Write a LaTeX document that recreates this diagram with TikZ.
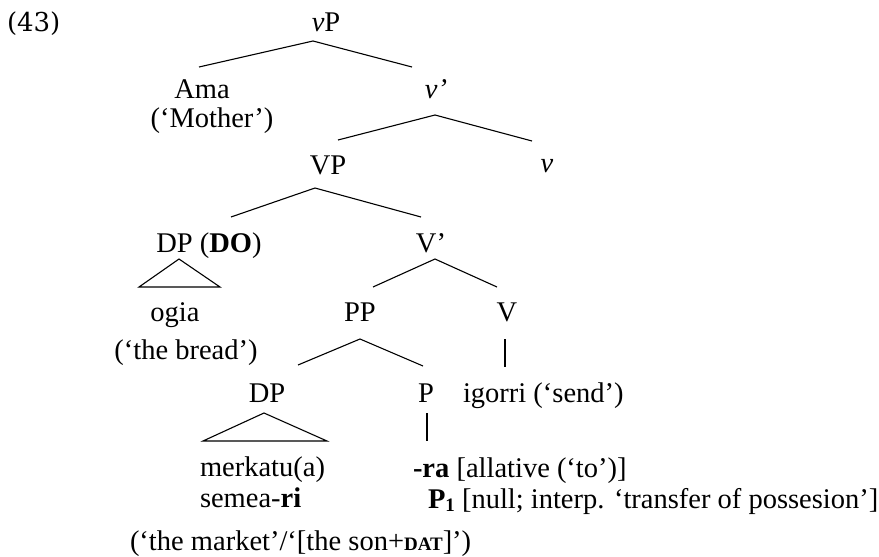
\documentclass[tikz,border=0pt]{standalone}
\usepackage{fontspec}
\setmainfont{Liberation Serif}
\newfontfamily\numfont{DejaVu Serif}
\begin{document}
\begin{tikzpicture}[x=1pt,y=-1pt,
  every node/.style={inner sep=0pt,outer sep=0pt,font=\fontsize{28.5}{30}\selectfont},
  lbl/.style={anchor=base},
  lft/.style={anchor=base west},
  br/.style={line width=1.1pt,line join=miter}]
\useasboundingbox (0,0) rectangle (879,557);
% labels
\node[lft] (ex) at (7,31) {\numfont\fontsize{26}{26}\selectfont (43)};
\node[lbl] (vP) at (326,31) {\textit{v}P};
\node[lbl] (Ama) at (202,98) {Ama};
\node[lbl] (Mother) at (212,127) {(‘Mother’)};
\node[lbl] (vbar) at (436,98) {\textit{v’}};
\node[lbl] (VP) at (328,174) {VP};
\node[lbl] (v) at (547,172) {\textit{v}};
\node[lbl] (DPDO) at (209,252) {DP (\textbf{DO})};
\node[lbl] (Vbar) at (431,252) {V’};
\node[lbl] (ogia) at (175,321) {ogia};
\node[lbl] (bread) at (186,359) {(‘the bread’)};
\node[lbl] (PP) at (360,321) {PP};
\node[lbl] (V) at (507,321) {V};
\node[lbl] (DP) at (267,402) {DP};
\node[lbl] (P) at (426,402) {P};
\node[lft] (igorri) at (463,402) {igorri (‘send’)};
\node[lft] (merk) at (200,476) {merkatu(a)};
\node[lft] (semea) at (200,507) {semea-\textbf{ri}};
\node[lft] (market) at (130,550) {(‘the market’/‘[the son+{\bfseries\fontsize{19}{19}\selectfont DAT}]’)};
\node[lft] (ra) at (413,477) {\textbf{-ra} [allative (‘to’)]};
\node[lft] (P1) at (428,508) {\textbf{P}\raisebox{-0.12em}{\bfseries\fontsize{19}{19}\selectfont 1} [null; interp. ‘transfer of possesion’]};
% branch points
\coordinate (vPa) at (313,41);  \coordinate (vPl) at (199,67);  \coordinate (vPr) at (412,67);
\coordinate (vba) at (435,115); \coordinate (vbl) at (338,140); \coordinate (vbr) at (532,141);
\coordinate (VPa) at (315,188); \coordinate (VPl) at (231,217); \coordinate (VPr) at (421,217);
\coordinate (Vba) at (435,259); \coordinate (Vbl) at (373,287); \coordinate (Vbr) at (497,287);
\coordinate (DOa) at (179,259); \coordinate (DOl) at (139,287); \coordinate (DOr) at (220,287);
\coordinate (PPa) at (360,339); \coordinate (PPl) at (298,365); \coordinate (PPr) at (423,366);
\coordinate (Vt) at (505,339);  \coordinate (Vb) at (505,367);
\coordinate (DPa) at (264,413); \coordinate (DPl) at (203,441); \coordinate (DPr) at (327,441);
\coordinate (Pt) at (427,413);  \coordinate (Pb) at (427,441);
% connectors
\draw[br] (vPl) -- (vPa) -- (vPr);
\draw[br] (vbl) -- (vba) -- (vbr);
\draw[br] (VPl) -- (VPa) -- (VPr);
\draw[br] (Vbl) -- (Vba) -- (Vbr);
\draw[br] (DOl) -- (DOa) -- (DOr) -- cycle;
\draw[br] (PPl) -- (PPa) -- (PPr);
\draw[br] (Vt) -- (Vb);
\draw[br] (DPl) -- (DPa) -- (DPr) -- cycle;
\draw[br] (Pt) -- (Pb);
\end{tikzpicture}
\end{document}
